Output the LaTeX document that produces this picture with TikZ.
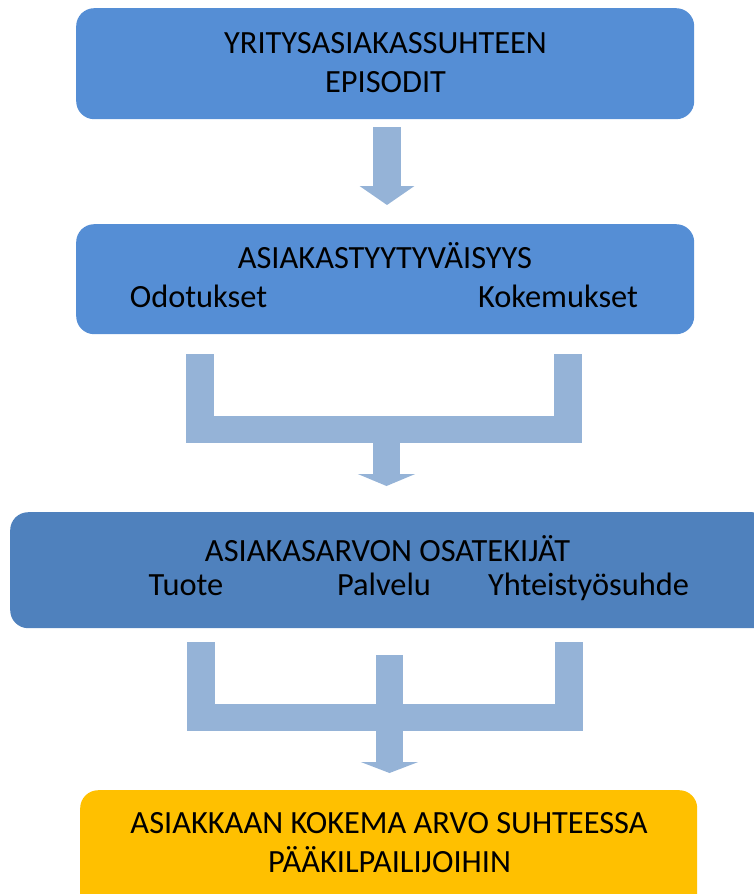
\documentclass[tikz,border=0pt]{standalone}
\usepackage{fontspec}
\setmainfont{Carlito}
\usetikzlibrary{arrows.meta}
\definecolor{boxblue}{HTML}{558ED5}
\definecolor{boxdark}{HTML}{4F81BD}
\definecolor{flow}{HTML}{95B3D7}
\definecolor{amber}{HTML}{FFC000}
\begin{document}
\begin{tikzpicture}[x=1pt,y=-1pt,
  panel/.style={rounded corners=18pt, inner sep=0pt, anchor=north west},
  lbl/.style={font=\fontsize{32.4}{38}\selectfont, anchor=base, inner sep=0pt, text=black},
  flowline/.style={draw=flow, line width=27.5pt, line cap=butt, line join=miter},
  ]
\useasboundingbox (0,0) rectangle (754,894);
\clip (0,0) rectangle (754,894);

% panels
\node[panel, fill=boxblue, minimum width=618pt, minimum height=111pt] (b1) at (76,8) {};
\node[panel, fill=boxblue, minimum width=618pt, minimum height=110pt] (b2) at (76,224) {};
\node[panel, fill=boxdark, minimum width=760pt, minimum height=116pt] (b3) at (10,512) {};
\node[panel, fill=amber, minimum width=617pt, minimum height=124pt] (b4) at (80,790) {};

% labels
\node[lbl] (t1a) at (385.5,53) {YRITYSASIAKASSUHTEEN};
\node[lbl] (t1b) at (385.5,92) {EPISODIT};
\node[lbl] (t2a) at (385,268) {ASIAKASTYYTYVÄISYYS};
\node[lbl] (t2b) at (198.5,307) {Odotukset};
\node[lbl] (t2c) at (558,307) {Kokemukset};
\node[lbl] (t3a) at (387.5,561) {ASIAKASARVON OSATEKIJÄT};
\node[lbl] (t3b) at (186,595) {Tuote};
\node[lbl] (t3c) at (384,595) {Palvelu};
\node[lbl] (t3d) at (588.5,595) {Yhteistyösuhde};
\node[lbl] (t4a) at (389,833) {ASIAKKAAN KOKEMA ARVO SUHTEESSA};
\node[lbl] (t4b) at (389.5,872) {PÄÄKILPAILIJOIHIN};

% connector points
\coordinate (a1s) at (387,127);
\coordinate (a1e) at (387,205);
\coordinate (l1) at (200,354);
\coordinate (r1) at (568,354);
\coordinate (a2s) at (386.5,440);
\coordinate (a2e) at (386.5,486);
\coordinate (l2) at (201,642);
\coordinate (r2) at (569,642);
\coordinate (m2) at (389.5,655);
\coordinate (a3e) at (389.5,773);

% connectors
\draw[flowline, -{Triangle[width=54pt,length=19pt]}] (a1s) -- (a1e);
\draw[flowline] (l1) -- (l1 |- 0,429.5) -- (r1 |- 0,429.5) -- (r1);
\draw[flowline, -{Triangle[width=57pt,length=12pt]}] (a2s) -- (a2e);
\draw[flowline] (l2) -- (l2 |- 0,717.5) -- (r2 |- 0,717.5) -- (r2);
\draw[flowline, -{Triangle[width=57pt,length=11pt]}] (m2) -- (a3e);
\end{tikzpicture}
\end{document}
